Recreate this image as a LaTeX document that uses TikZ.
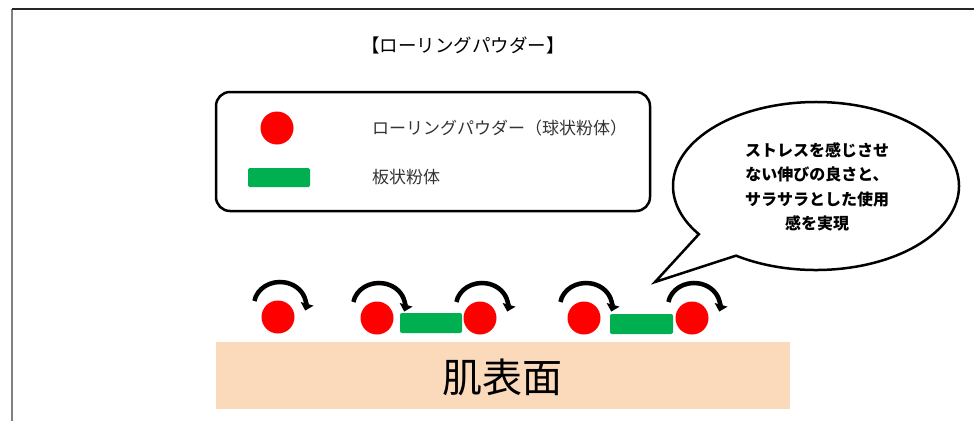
\documentclass[tikz,border=0pt]{standalone}
\usepackage{fontspec}
\setmainfont{Noto Sans CJK JP}
\usetikzlibrary{arrows.meta,calc}
\definecolor{pred}{RGB}{255,0,0}
\definecolor{pgreen}{RGB}{0,176,80}
\definecolor{skin}{RGB}{251,218,187}
\definecolor{frameg}{RGB}{128,128,128}
\tikzset{
  ball/.style={circle, fill=pred, minimum size=33pt, inner sep=0pt},
  plate/.style={fill=pgreen, rounded corners=2pt, minimum width=62pt, minimum height=20pt, inner sep=0pt},
  rot/.style={line width=4.5pt, -{Triangle[length=7pt,width=13pt]}},
}
\begin{document}
\begin{tikzpicture}[x=1pt,y=-1pt]
\useasboundingbox (0,0) rectangle (974,421);
% frame
\draw[frameg, line width=1.3pt] (12,421) -- (12,9);
\draw[black!85, line width=1.3pt] (12,9) -- (974,9);
% title
\node[font=\fontsize{18.5}{20}\selectfont] (title) at (463,45) {【ローリングパウダー】};
% legend
\node[draw, line width=2.5pt, rounded corners=14pt, minimum width=434pt, minimum height=119pt] (legend) at (433,151.5) {};
\node[ball] (lc) at (277,128) {};
\node[plate, minimum height=19pt, rounded corners=1.5pt] (lr) at (279,177.5) {};
\node[anchor=west, text=black!80, font=\fontsize{17}{20}\selectfont, inner sep=0pt] (lt1) at (372,128) {ローリングパウダー（球状粉体）};
\node[anchor=west, text=black!80, font=\fontsize{17}{20}\selectfont, inner sep=0pt] (lt2) at (372,177) {板状粉体};
% speech bubble
\coordinate (bc) at (816,186);
\coordinate (tip) at (655,282);
\draw[line width=2.5pt, fill=white, line join=miter] ($(bc)+(124:143 and 84)$) arc[start angle=124, end angle=-215, x radius=143, y radius=84] -- (tip) -- cycle;
\node[font=\fontsize{16}{24.5}\selectfont\bfseries, align=center] (bt) at (817,187) {ストレスを感じさせ\\ない伸びの良さと、\\サラサラとした使用\\感を実現};
% skin surface
\node[fill=skin, minimum width=574pt, minimum height=67pt, inner sep=0pt] (skin) at (503,375.5) {};
\node[font=\fontsize{40}{44}\selectfont, inner sep=0pt] (skt) at (502,377) {肌表面};
% particles
\node[plate] (g1) at (431,323) {};
\node[plate, minimum width=63pt] (g2) at (641.5,324) {};
\node[ball] (p1) at (278,317) {};
\node[ball] (p2) at (377,318) {};
\node[ball] (p3) at (480,318) {};
\node[ball] (p4) at (584,318) {};
\node[ball] (p5) at (692,318) {};
% rotation arrows
\foreach \p in {p1,p2,p3,p4,p5}{
  \draw[rot] ($(\p)+(-23.6,-16)$) arc[start angle=190, end angle=374, x radius=26, y radius=23];
}
\end{tikzpicture}
\end{document}
